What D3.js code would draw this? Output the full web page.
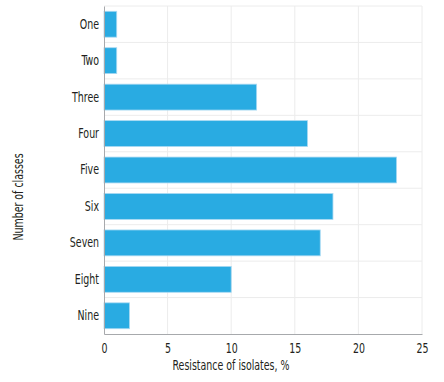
<!DOCTYPE html>
<html>
<head>
<meta charset="utf-8">
<script src="https://cdn.jsdelivr.net/npm/d3@7"></script>
<style>
  body { margin: 0; background: #fff; }
  text { font-family: "DejaVu Sans Condensed", "DejaVu Sans", sans-serif; fill: #231f20; }
</style>
</head>
<body>
<svg id="graphique" width="444" height="382"></svg>
<script>
// classes and resistance values (%)
var classes = ["One", "Two", "Three", "Four", "Five", "Six", "Seven", "Eight", "Nine"];
var resistance = [1, 1, 12, 16, 23, 18, 17, 10, 2];
var xTicks = [0, 5, 10, 15, 20, 25];

var WIDTH = 444, HEIGHT = 382;
var MARGINS = { top: 6, right: 22, bottom: 48, left: 104 };
var SX = 0.75; // the reference font is very narrow
var FS = 14;

var graphique = d3.select("#graphique");

var xScale = d3.scaleLinear()
  .domain([0, 25])
  .range([MARGINS.left, WIDTH - MARGINS.right]);
var yScale = d3.scaleBand()
  .domain(classes)
  .range([MARGINS.top, HEIGHT - MARGINS.bottom])
  .paddingInner(0.29)
  .paddingOuter(0.145);

// grid
var grid = graphique.append("g");
xTicks.forEach(function(t){
  if(t == 0) return;
  grid.append("line")
    .attr("x1", xScale(t)).attr("x2", xScale(t))
    .attr("y1", MARGINS.top).attr("y2", HEIGHT - MARGINS.bottom)
    .attr("stroke", "#ececec").attr("stroke-width", 1);
});
var step = yScale.step();
for(var i = 0; i < classes.length; i++){
  var yy = MARGINS.top + i * step;
  grid.append("line")
    .attr("x1", MARGINS.left).attr("x2", WIDTH - MARGINS.right)
    .attr("y1", yy).attr("y2", yy)
    .attr("stroke", "#ececec").attr("stroke-width", 1);
}

// bars
graphique.append("g").selectAll("rect")
  .data(classes)
  .enter().append("rect")
  .attr("x", xScale(0))
  .attr("y", function(d){ return yScale(d); })
  .attr("width", function(d, i){ return xScale(resistance[i]) - xScale(0); })
  .attr("height", yScale.bandwidth())
  .attr("fill", "#29abe2")
  .attr("stroke", "#a9d9f2")
  .attr("stroke-width", 0.8);

// axes
var xAxis = d3.axisBottom(xScale).tickValues(xTicks).tickSize(0).tickPadding(9);
var gx = graphique.append("g")
  .attr("transform", "translate(0," + (HEIGHT - MARGINS.bottom) + ")")
  .call(xAxis);
gx.select(".domain").attr("stroke", "#a7a9ac");
gx.selectAll("text").attr("font-size", FS).attr("transform", "scale(" + SX + ",1)");

var yAxis = d3.axisLeft(yScale).tickSize(0);
var gy = graphique.append("g")
  .attr("transform", "translate(" + MARGINS.left + ",0)")
  .call(yAxis);
gy.select(".domain").attr("stroke", "#a7a9ac");
gy.selectAll("text")
  .attr("font-size", FS)
  .attr("x", -5 / SX)
  .attr("transform", "scale(" + SX + ",1)");

// titres
graphique.append("text")
  .attr("transform", "translate(231,370) scale(" + SX + ",1)")
  .attr("text-anchor", "middle")
  .attr("font-size", FS)
  .text("Resistance of isolates, %");

graphique.append("text")
  .attr("transform", "translate(23,197) rotate(-90) scale(" + SX + ",1)")
  .attr("text-anchor", "middle")
  .attr("font-size", FS)
  .text("Number of classes");
</script>
</body>
</html>
